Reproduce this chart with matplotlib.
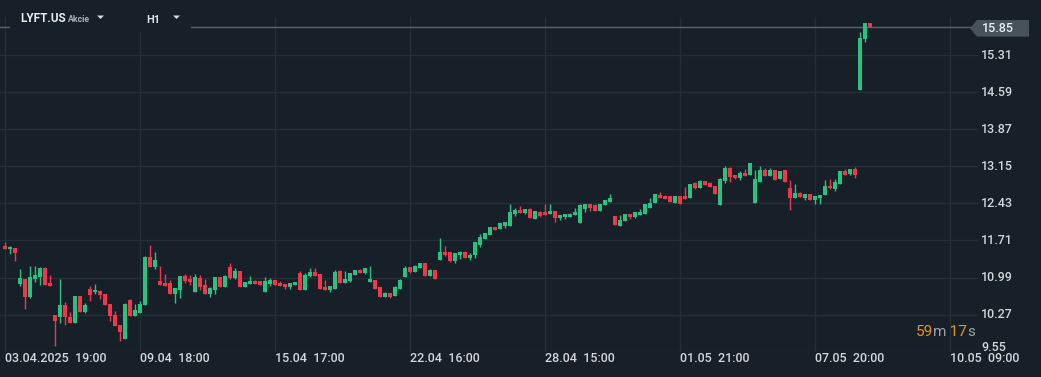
import matplotlib
matplotlib.use("Agg")
import matplotlib.pyplot as plt
from matplotlib.patches import Polygon, Rectangle

# ---------------- data (hourly candles, LYFT.US) ----------------
opens = [
    11.61, 11.54, 11.57, 10.87, 10.97, 10.61, 10.97, 11.01, 11.18, 10.89,
    10.26, 10.23, 10.46, 10.22, 10.10, 10.63, 10.33, 10.77, 10.70, 10.73,
    10.67, 10.48, 10.26, 10.07, 9.80, 10.56, 10.25, 10.31, 10.45, 11.39,
    11.19, 10.92, 10.89, 10.89, 10.68, 10.75, 11.02, 10.97, 10.71, 10.98,
    10.85, 10.67, 10.75, 11.00, 10.81, 11.20, 10.98, 11.12, 10.81, 10.87,
    10.93, 10.93, 10.71, 10.87, 10.95, 10.89, 10.87, 10.81, 10.85, 11.08,
    10.75, 11.02, 11.09, 11.06, 10.81, 10.75, 10.77, 11.12, 10.89, 10.93,
    11.04, 11.14, 11.08, 10.91, 10.95, 10.81, 10.61, 10.69, 10.63, 10.77,
    11.00, 11.20, 11.10, 11.18, 11.28, 11.02, 11.14, 11.33, 11.49, 11.49,
    11.32, 11.43, 11.49, 11.37, 11.43, 11.63, 11.74, 11.82, 11.98, 11.94,
    12.00, 12.00, 12.23, 12.31, 12.25, 12.33, 12.13, 12.27, 12.27, 12.23,
    12.29, 12.15, 12.17, 12.17, 12.21, 12.05, 12.33, 12.42, 12.39, 12.29,
    12.39, 12.46, 12.19, 12.00, 12.09, 12.23, 12.17, 12.21, 12.23, 12.35,
    12.44, 12.60, 12.58, 12.58, 12.44, 12.58, 12.58, 12.54, 12.83, 12.72,
    12.87, 12.83, 12.77, 12.39, 12.87, 13.11, 12.99, 12.93, 13.03, 12.99,
    12.44, 12.85, 13.07, 12.97, 13.07, 12.91, 13.07, 12.72, 12.54, 12.64,
    12.54, 12.62, 12.50, 12.54, 12.60, 12.77, 12.70, 12.81, 13.05, 13.01,
    13.09, 14.63, 15.62, 15.93,
]
highs = [
    11.68, 11.61, 11.57, 11.16, 10.97, 11.22, 11.21, 11.19, 11.19, 11.04,
    10.26, 10.97, 10.52, 10.33, 10.63, 10.63, 10.49, 10.83, 10.87, 10.75,
    10.67, 10.48, 10.34, 10.07, 10.50, 10.58, 10.48, 10.54, 11.41, 11.63,
    11.49, 11.21, 11.06, 10.95, 10.79, 11.02, 11.06, 11.04, 11.06, 11.04,
    10.97, 10.81, 11.00, 11.00, 11.04, 11.28, 11.18, 11.12, 10.91, 11.02,
    10.95, 10.93, 11.00, 10.98, 10.95, 10.93, 10.87, 10.89, 10.91, 11.12,
    11.08, 11.18, 11.18, 11.06, 10.95, 10.83, 11.14, 11.14, 11.12, 11.08,
    11.14, 11.16, 11.18, 11.22, 10.95, 10.81, 10.71, 10.69, 10.83, 10.97,
    11.22, 11.20, 11.24, 11.28, 11.28, 11.16, 11.14, 11.76, 11.61, 11.49,
    11.47, 11.51, 11.51, 11.47, 11.68, 11.84, 11.86, 11.98, 11.98, 12.04,
    12.07, 12.42, 12.35, 12.37, 12.33, 12.35, 12.29, 12.29, 12.41, 12.42,
    12.29, 12.21, 12.23, 12.25, 12.35, 12.42, 12.42, 12.42, 12.41, 12.42,
    12.50, 12.62, 12.19, 12.21, 12.23, 12.23, 12.27, 12.33, 12.42, 12.54,
    12.62, 12.66, 12.60, 12.58, 12.58, 12.58, 12.74, 12.81, 12.85, 12.89,
    12.87, 12.85, 12.77, 12.93, 13.16, 13.13, 12.99, 13.05, 13.09, 13.22,
    13.07, 13.16, 13.11, 13.11, 13.07, 13.05, 13.07, 12.89, 12.81, 12.66,
    12.62, 12.62, 12.58, 12.60, 12.89, 12.91, 12.91, 13.05, 13.09, 13.09,
    13.13, 15.76, 15.93, 15.93,
]
lows = [
    11.54, 11.45, 11.32, 10.82, 10.38, 10.60, 10.91, 10.85, 10.85, 10.82,
    9.67, 10.10, 10.06, 10.10, 10.10, 10.33, 10.31, 10.54, 10.67, 10.57,
    10.45, 10.15, 10.04, 9.75, 9.80, 10.25, 10.25, 10.31, 10.45, 11.19,
    11.15, 10.85, 10.82, 10.68, 10.50, 10.60, 10.89, 10.85, 10.71, 10.75,
    10.67, 10.61, 10.67, 10.81, 10.81, 10.97, 10.97, 10.81, 10.81, 10.87,
    10.87, 10.85, 10.71, 10.82, 10.85, 10.83, 10.77, 10.77, 10.85, 10.75,
    10.75, 11.00, 11.02, 10.77, 10.75, 10.71, 10.77, 10.89, 10.89, 10.91,
    11.04, 11.08, 11.06, 10.91, 10.77, 10.61, 10.61, 10.60, 10.63, 10.77,
    11.00, 11.08, 11.10, 11.18, 11.02, 11.02, 10.97, 11.33, 11.40, 11.30,
    11.28, 11.35, 11.37, 11.33, 11.37, 11.59, 11.74, 11.82, 11.92, 11.94,
    11.96, 12.00, 12.19, 12.25, 12.23, 12.15, 12.13, 12.17, 12.21, 12.23,
    12.07, 12.10, 12.13, 12.17, 12.21, 12.05, 12.27, 12.29, 12.29, 12.29,
    12.39, 12.46, 12.02, 12.00, 12.09, 12.13, 12.15, 12.21, 12.23, 12.35,
    12.44, 12.54, 12.52, 12.46, 12.44, 12.42, 12.52, 12.54, 12.70, 12.72,
    12.79, 12.74, 12.62, 12.39, 12.83, 12.85, 12.91, 12.89, 12.97, 12.99,
    12.44, 12.85, 12.97, 12.97, 12.89, 12.91, 12.85, 12.31, 12.54, 12.56,
    12.50, 12.50, 12.42, 12.42, 12.60, 12.70, 12.68, 12.81, 12.99, 12.99,
    12.93, 14.63, 15.56, 15.85,
]
closes = [
    11.54, 11.59, 11.46, 10.98, 10.62, 11.00, 11.04, 11.18, 10.85, 10.82,
    10.15, 10.46, 10.22, 10.10, 10.63, 10.33, 10.46, 10.65, 10.75, 10.65,
    10.45, 10.25, 10.04, 9.94, 10.48, 10.25, 10.36, 10.48, 11.39, 11.19,
    11.33, 10.85, 10.83, 10.68, 10.79, 11.02, 10.93, 10.91, 11.00, 10.81,
    10.67, 10.79, 11.00, 10.81, 11.02, 10.99, 11.12, 10.81, 10.91, 10.93,
    10.87, 10.85, 10.93, 10.95, 10.85, 10.83, 10.81, 10.89, 10.91, 10.75,
    11.04, 11.09, 11.02, 10.77, 10.75, 10.83, 11.10, 10.89, 10.97, 11.08,
    11.14, 11.08, 11.18, 10.97, 10.77, 10.61, 10.69, 10.61, 10.81, 10.95,
    11.18, 11.10, 11.22, 11.28, 11.02, 11.14, 10.97, 11.49, 11.43, 11.32,
    11.47, 11.49, 11.37, 11.43, 11.68, 11.78, 11.86, 11.98, 11.92, 12.04,
    12.07, 12.27, 12.31, 12.25, 12.33, 12.15, 12.29, 12.19, 12.21, 12.29,
    12.15, 12.21, 12.23, 12.23, 12.27, 12.39, 12.41, 12.35, 12.29, 12.42,
    12.50, 12.54, 12.02, 12.11, 12.23, 12.17, 12.27, 12.27, 12.42, 12.44,
    12.62, 12.54, 12.52, 12.46, 12.58, 12.42, 12.52, 12.81, 12.72, 12.87,
    12.79, 12.74, 12.62, 12.91, 13.11, 12.95, 12.93, 13.03, 12.97, 13.22,
    12.91, 13.07, 12.97, 13.07, 12.89, 13.05, 12.85, 12.54, 12.64, 12.56,
    12.62, 12.50, 12.58, 12.60, 12.77, 12.72, 12.85, 13.05, 12.99, 13.09,
    12.99, 15.65, 15.93, 15.85,
]
x_tick_labels = ["03.04.2025  19:00", "09.04  18:00", "15.04  17:00", "22.04  16:00",
                 "28.04  15:00", "01.05  21:00", "07.05  20:00", "10.05  09:00"]
bars_per_label = 27
price_ticks = [9.55, 10.27, 10.99, 11.71, 12.43, 13.15, 13.87, 14.59, 15.31]
symbol = "LYFT.US"
asset_type = "Akcie"
timeframe = "H1"
countdown = [("59", "num"), ("m", "unit"), (" 17", "num"), ("s", "unit")]

# ---------------- style ----------------
BG = "#172028"
GRID = "#242e37"
TXT = "#d3d6da"
UP = "#29c283"
DOWN = "#f0374b"
LINE = "#56626c"
BOX = "#46525c"
ORANGE = "#ee9216"
UNIT = "#9aa1a8"
FONT = ["Roboto", "DejaVu Sans"]
plt.rcParams["font.family"] = FONT

W, H = 1041, 377
fig = plt.figure(figsize=(W / 100, H / 100), dpi=100, facecolor=BG)
ax_left, ax_right, ax_top, ax_bot = 0, 978, 17, 351.7
ax = fig.add_axes([ax_left / W, 1 - ax_bot / H, (ax_right - ax_left) / W, (ax_bot - ax_top) / H])
ax.set_facecolor(BG)
for s in ax.spines.values():
    s.set_visible(False)

n = len(closes)
xs = list(range(n))
ax.set_xlim(-1, 194.6)
ax.set_ylim(9.55, 16.05)

# grid
ax.set_xticks([k * bars_per_label for k in range(len(x_tick_labels))])
ax.set_yticks(price_ticks)
ax.grid(True, color=GRID, lw=1)
ax.set_axisbelow(True)
ax.tick_params(length=0, labelleft=False, labelbottom=False)

# candles
cols = [UP if c >= o else DOWN for o, c in zip(opens, closes)]
ax.vlines(xs, lows, highs, colors=cols, lw=1, zorder=3)
bottoms = [min(o, c) for o, c in zip(opens, closes)]
heights = [max(abs(c - o), 0.02) for o, c in zip(opens, closes)]
ax.bar(xs, heights, bottom=bottoms, width=0.62, color=cols, linewidth=0, zorder=4)

# last price line
last = closes[-1]
ax.axhline(last, color=LINE, lw=1, zorder=2)

# y labels
ytr = ax.get_yaxis_transform()
for p in price_ticks:
    if p == price_ticks[0]:
        ax.text(1.0035, p + 0.02, f"{p:.2f}", transform=ytr, ha="left", va="baseline",
                color=TXT, fontsize=9, fontweight="medium", clip_on=False)
    else:
        ax.text(1.0035, p, f"{p:.2f}", transform=ytr, ha="left", va="center",
                color=TXT, fontsize=9, fontweight="medium", clip_on=False)

# x labels
xtr = ax.get_xaxis_transform()
for k, lab in enumerate(x_tick_labels):
    ax.text(k * bars_per_label, -7.3 / (ax_bot - ax_top), lab, transform=xtr, ha="left",
            va="center", color=TXT, fontsize=9, fontweight="medium", clip_on=False)


def px(x, y):
    return (x / W, 1 - y / H)


# last price box
poly = Polygon([px(970, 28.3), px(977, 20), px(1029, 20), px(1029, 36.6), px(977, 36.6)],
               closed=True, transform=fig.transFigure, facecolor=BOX, edgecolor="none", zorder=5)
fig.patches.append(poly)
fig.text(*px(981.5, 28.5), f"{last:.2f}", ha="left", va="center", color="#eceef0",
         fontsize=9, fontweight="medium", zorder=6)

# header overlay
fig.patches.append(Rectangle(px(10, 32), 181 / W, 32 / H, transform=fig.transFigure,
                             facecolor=BG, edgecolor="none", zorder=5))
fig.text(*px(20, 18.7), symbol, ha="left", va="center", color="#e8eaec",
         fontsize=8.5, fontweight="bold", zorder=6)
fig.text(*px(68, 19.3), asset_type, ha="left", va="center", color="#a9b0b6",
         fontsize=6.3, fontweight="bold", zorder=6)
fig.text(*px(146, 20), timeframe, ha="left", va="center", color="#e0e3e6",
         fontsize=7.8, fontweight="bold", zorder=6)
for tx in (97, 173):
    fig.patches.append(Polygon([px(tx, 15.5), px(tx + 7, 15.5), px(tx + 3.5, 19)], closed=True,
                               transform=fig.transFigure, facecolor="#d8dbde",
                               edgecolor="none", zorder=6))

# countdown
renderer = fig.canvas.get_renderer()
cx = 915.5
for txt, kind in countdown:
    t = fig.text(*px(cx, 332), txt, ha="left", va="center",
                 color=ORANGE if kind == "num" else UNIT, fontsize=11, zorder=6)
    bb = t.get_window_extent(renderer=renderer)
    cx = bb.x1

fig.savefig("out.png", dpi=100, facecolor=BG)
